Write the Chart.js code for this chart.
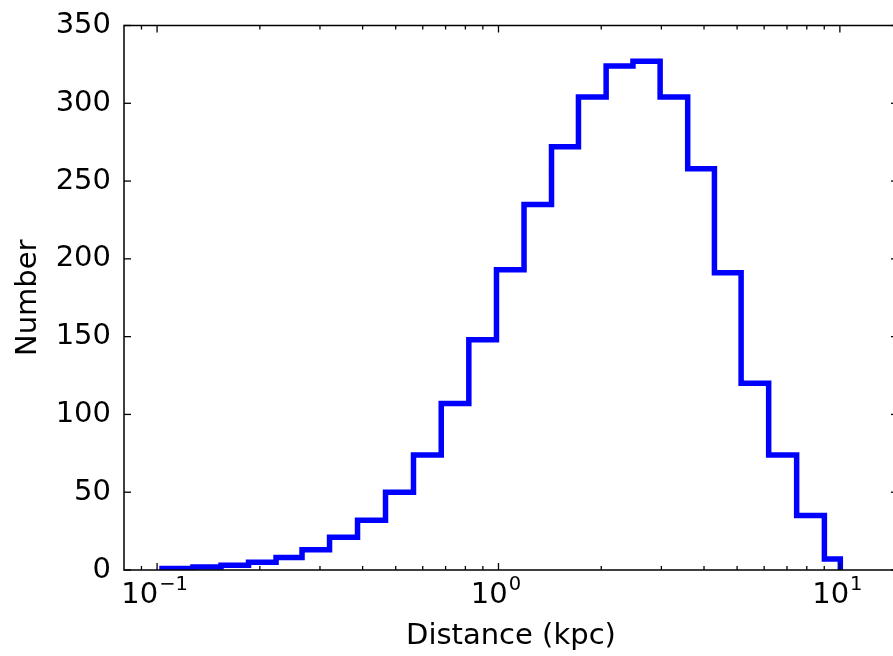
<!DOCTYPE html>
<html><head><meta charset="utf-8">
<script src="https://cdn.jsdelivr.net/npm/chart.js@4/dist/chart.umd.min.js"></script>
<style>
html,body{margin:0;padding:0;background:#fff;overflow:hidden;width:893px;height:656px}
#wrap{position:absolute;left:0;top:0;width:910px;height:656px}
</style>
</head><body><div id="wrap"><canvas id="c"></canvas></div>
<script>
// Histogram bin edges (kpc) and counts
const binEdges = [0.1034,0.1274,0.1539,0.1853,0.2231,0.2658,0.3200,0.3865,0.4668,0.5637,0.6797,0.8187,0.9866,1.188,1.430,1.715,2.067,2.477,2.975,3.583,4.291,5.137,6.186,7.471,9.008,10.03];
const binCounts = [1,2,3,5,8,13,21,32,50,74,107,148,193,235,272,304,324,327,304,258,191,120,74,35,7];
const yTicks = [0,50,100,150,200,250,300,350];
const xMajorTicks = [0.1,1,10];
const xTickBase = '10';
const xTickExponents = ['\u22121','0','1'];
const xMinorTicks = [0.09,0.2,0.3,0.4,0.5,0.6,0.7,0.8,0.9,2,3,4,5,6,7,8,9];
const xTitle = 'Distance (kpc)';
const yTitle = 'Number';

const FONT = "'DejaVu Sans', sans-serif";

const points = [{x: binEdges[0], y: 0}]
  .concat(binCounts.map((c, i) => ({x: binEdges[i], y: c})))
  .concat([{x: binEdges[binEdges.length - 1], y: 0}]);

const framePlugin = {
  id: 'frame',
  afterDatasetsDraw(chart) {
    const {ctx, chartArea: a, scales: {x, y}} = chart;
    ctx.save();
    ctx.strokeStyle = '#000';
    ctx.lineWidth = 1.5;
    ctx.strokeRect(a.left, a.top, a.right - a.left, a.bottom - a.top);
    ctx.lineWidth = 1.3;
    const seg = (x1, y1, x2, y2) => { ctx.beginPath(); ctx.moveTo(x1, y1); ctx.lineTo(x2, y2); ctx.stroke(); };
    yTicks.forEach(v => {
      const p = y.getPixelForValue(v);
      seg(a.left, p, a.left + 7, p);
      seg(a.right, p, a.right - 7, p);
    });
    xMajorTicks.forEach(v => {
      const p = x.getPixelForValue(v);
      seg(p, a.bottom, p, a.bottom - 7);
      seg(p, a.top, p, a.top + 7);
    });
    xMinorTicks.forEach(v => {
      const p = x.getPixelForValue(v);
      seg(p, a.bottom, p, a.bottom - 4);
      seg(p, a.top, p, a.top + 4);
    });
    // x tick labels with superscript exponents
    ctx.fillStyle = '#000';
    ctx.textBaseline = 'alphabetic';
    ctx.textAlign = 'left';
    xMajorTicks.forEach((v, i) => {
      const p = x.getPixelForValue(v);
      ctx.font = '29px ' + FONT;
      const wb = ctx.measureText(xTickBase).width;
      ctx.font = '19.5px ' + FONT;
      const we = ctx.measureText(xTickExponents[i]).width;
      const start = p - (wb + we) / 2 - 3;
      ctx.font = '29px ' + FONT;
      ctx.fillText(xTickBase, start, a.bottom + 33);
      ctx.font = '19.5px ' + FONT;
      ctx.fillText(xTickExponents[i], start + wb + 1, a.bottom + 20);
    });
    ctx.restore();
  }
};

new Chart(document.getElementById('c'), {
  type: 'line',
  data: {
    datasets: [{
      data: points,
      borderColor: '#0000ff',
      borderWidth: 5.5,
      pointRadius: 0,
      fill: false,
      stepped: 'before',
      borderJoinStyle: 'miter'
    }]
  },
  options: {
    responsive: true,
    maintainAspectRatio: false,
    animation: false,
    events: [],
    layout: {padding: {left: 0, top: 25.5, right: 12, bottom: 0}},
    plugins: {legend: {display: false}, tooltip: {enabled: false}},
    scales: {
      x: {
        type: 'logarithmic',
        min: 0.08,
        max: 14.8,
        grid: {display: false},
        border: {display: false},
        ticks: {display: false},
        title: {display: true, text: xTitle, color: '#000', font: {family: FONT, size: 29}, padding: {top: 0, bottom: 2}},
        afterFit(s) { s.height = 86; }
      },
      y: {
        min: 0,
        max: 350,
        grid: {display: false},
        border: {display: false},
        ticks: {stepSize: 50, color: '#000', padding: 5, font: {family: FONT, size: 29}},
        title: {display: true, text: yTitle, color: '#000', font: {family: FONT, size: 29}, padding: {top: 11.5, bottom: 0}},
        afterFit(s) { s.width = 124; }
      }
    }
  },
  plugins: [framePlugin]
});
</script>
</body></html>
